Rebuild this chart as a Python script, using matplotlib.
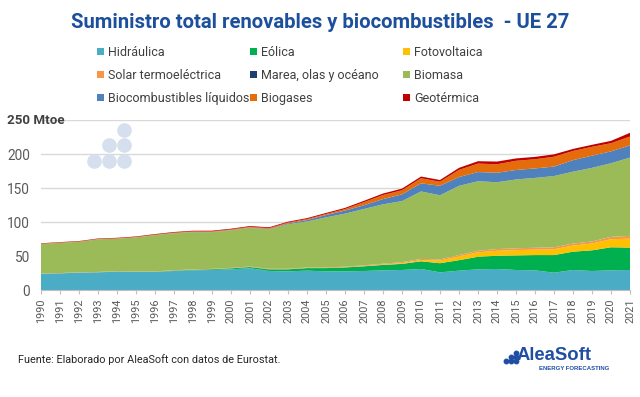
import numpy as np
import matplotlib.pyplot as plt
from matplotlib.patches import Patch

years = list(range(1990, 2022))

# Mtoe
hidraulica = [24, 24.5, 25.5, 26, 27, 26.5, 26.5, 28, 29, 29.5, 30.5, 32, 28, 27.5, 28.5,
              27.5, 27.5, 28, 29, 29.5, 31, 26, 28.5, 30.5, 31, 29.5, 29, 25.5, 29.5, 28, 29, 29.5]
eolica = [0.1, 0.1, 0.15, 0.2, 0.3, 0.35, 0.45, 0.6, 0.85, 1.1, 1.5, 1.9, 2.5, 3, 3.8,
          4.8, 5.8, 6.9, 8, 9, 11.3, 13.5, 15.5, 18.5, 19.5, 21.5, 22.5, 26, 27, 30.5, 34, 33]
fotovoltaica = [0.01, 0.01, 0.01, 0.01, 0.01, 0.01, 0.02, 0.02, 0.02, 0.03, 0.03, 0.04, 0.05, 0.06, 0.08,
                0.1, 0.2, 0.35, 0.65, 1.2, 1.9, 3.9, 5.5, 6.5, 7.3, 7.8, 8, 8.6, 9, 10, 11.8, 13.2]
solar_termo = [0.3, 0.3, 0.35, 0.35, 0.4, 0.4, 0.45, 0.45, 0.5, 0.5, 0.55, 0.6, 0.65, 0.7, 0.75,
               0.8, 0.9, 1.0, 1.1, 1.3, 1.5, 1.7, 2.0, 2.3, 2.5, 2.6, 2.7, 2.8, 2.9, 3.0, 3.5, 4.0]
marea = [0.04] * 32
biomasa = [43.5, 44.7, 45, 48.2, 47.9, 50.2, 53.4, 54.6, 54.9, 54, 55.3, 57, 58.1, 65.6, 67.8,
           73.8, 78.1, 83.1, 87.5, 90, 99.5, 94.5, 102, 102.5, 98.5, 101.5, 103, 105, 106, 108.5, 108.5, 115.5]
biocombustibles = [0, 0, 0, 0, 0.05, 0.1, 0.15, 0.2, 0.3, 0.35, 0.4, 0.5, 0.7, 1.2, 2.2,
                   3.5, 4.5, 5.6, 7.7, 10, 12, 14, 13, 13.5, 14, 14, 14, 14, 17, 18, 17.5, 18]
biogases = [0.3, 0.35, 0.4, 0.45, 0.5, 0.55, 0.6, 0.7, 0.8, 0.9, 1.0, 1.1, 1.2, 1.3, 1.4,
            1.5, 2.3, 4.5, 6, 6, 7.5, 6, 10.5, 12.5, 12.5, 13.5, 13.5, 14.5, 13.5, 13, 12, 13]
geotermica = [0.6, 0.65, 0.7, 0.7, 0.75, 0.8, 0.85, 0.9, 0.95, 1.0, 1.05, 1.1, 1.2, 1.3, 1.4,
              1.5, 1.7, 2, 2.2, 2.4, 2.5, 2.5, 3, 3.5, 4, 3.5, 3.5, 3.5, 3, 3, 3.5, 5.5]

series = [hidraulica, eolica, fotovoltaica, solar_termo, marea,
          biomasa, biocombustibles, biogases, geotermica]
labels = ['Hidráulica', 'Eólica', 'Fotovoltaica', 'Solar termoeléctrica',
          'Marea, olas y océano', 'Biomasa', 'Biocombustibles líquidos',
          'Biogases', 'Geotérmica']
colors = ['#4bacc6', '#00b050', '#ffc000', '#f79646', '#1f3f73',
          '#9bbb59', '#4f81bd', '#e46c0a', '#c00000']

plt.rcParams['font.family'] = ['Roboto', 'DejaVu Sans']

fig = plt.figure(figsize=(6.4, 3.97), dpi=100)
ax = fig.add_axes([41 / 640, 1 - 290 / 397, 589 / 640, 169.6 / 397])

ax.stackplot(years, *series, colors=colors, linewidth=0)

ax.set_xlim(1990, 2021)
ax.set_ylim(0, 250)
ax.set_xticks(years)
ax.set_xticklabels([str(y) for y in years], rotation=90, fontsize=7.8, color='#595959')
ax.set_yticks([0, 50, 100, 150, 200, 250])
ax.set_yticklabels(['0', '50', '100', '150', '200', ''], fontsize=9.8, color='#595959')
ax.tick_params(axis='y', length=0, pad=8)
ax.tick_params(axis='x', length=3, color='#bfbfbf', pad=3)
ax.grid(axis='y', color='#d9d9d9', linewidth=1)
ax.set_axisbelow(True)
for s in ['top', 'right', 'left']:
    ax.spines[s].set_visible(False)
ax.spines['bottom'].set_color('#bfbfbf')

# "250 Mtoe" label
fig.text(7 / 640, 1 - 120 / 397, '250 Mtoe', fontsize=9.6, fontweight='bold',
         color='#404040', va='center', ha='left')

# watermark dots
wx = [94, 109, 124, 109, 124, 124]
wy = [161, 161, 161, 145, 145, 130]
fig.add_artist(plt.Line2D([x / 640 for x in wx], [1 - y / 397 for y in wy],
                          linestyle='none', marker='o', markersize=9.5,
                          color='#d5dfee', transform=fig.transFigure))

fig.text(320.5 / 640, 1 - 22 / 397, 'Suministro total renovables y biocombustibles  - UE 27',
         fontsize=14.6, fontweight='bold', color='#1c4f9c', ha='center', va='center')

# legend: three columns, filled row by row
col_x = [97, 250, 403]
for c in range(3):
    idx = [c, c + 3, c + 6]
    handles = [Patch(facecolor=colors[i], edgecolor='none') for i in idx]
    fig.legend(handles, [labels[i] for i in idx], loc='upper left',
               bbox_to_anchor=(col_x[c] / 640, 1 - 46 / 397), frameon=False,
               fontsize=9, handlelength=0.55, handleheight=0.55, handletextpad=0.35,
               labelspacing=0.8, borderaxespad=0, borderpad=0, labelcolor='#404040')

fig.text(18 / 640, 1 - 360 / 397, 'Fuente: Elaborado por AleaSoft con datos de Eurostat.',
         fontsize=7.8, color='#262626', va='center', ha='left')

# logo
fig.text(592 / 640, 1 - 356 / 397, 'AleaSoft', fontsize=13.3, fontweight='bold',
         color='#1f4ea3', va='center', ha='right', family=['Liberation Sans', 'DejaVu Sans'])
fig.text(609 / 640, 1 - 368 / 397, 'ENERGY FORECASTING', fontsize=4.3, fontweight='bold',
         color='#1f4ea3', va='center', ha='right', family=['Liberation Sans', 'DejaVu Sans'])
lx = [506, 511, 511, 516, 516, 516]
ly = [361, 361, 357, 361, 357, 353]
fig.add_artist(plt.Line2D([x / 640 for x in lx], [1 - y / 397 for y in ly],
                          linestyle='none', marker='o', markersize=3.2,
                          color='#1f4ea3', transform=fig.transFigure))

fig.savefig('out.png', dpi=100, facecolor='white')
